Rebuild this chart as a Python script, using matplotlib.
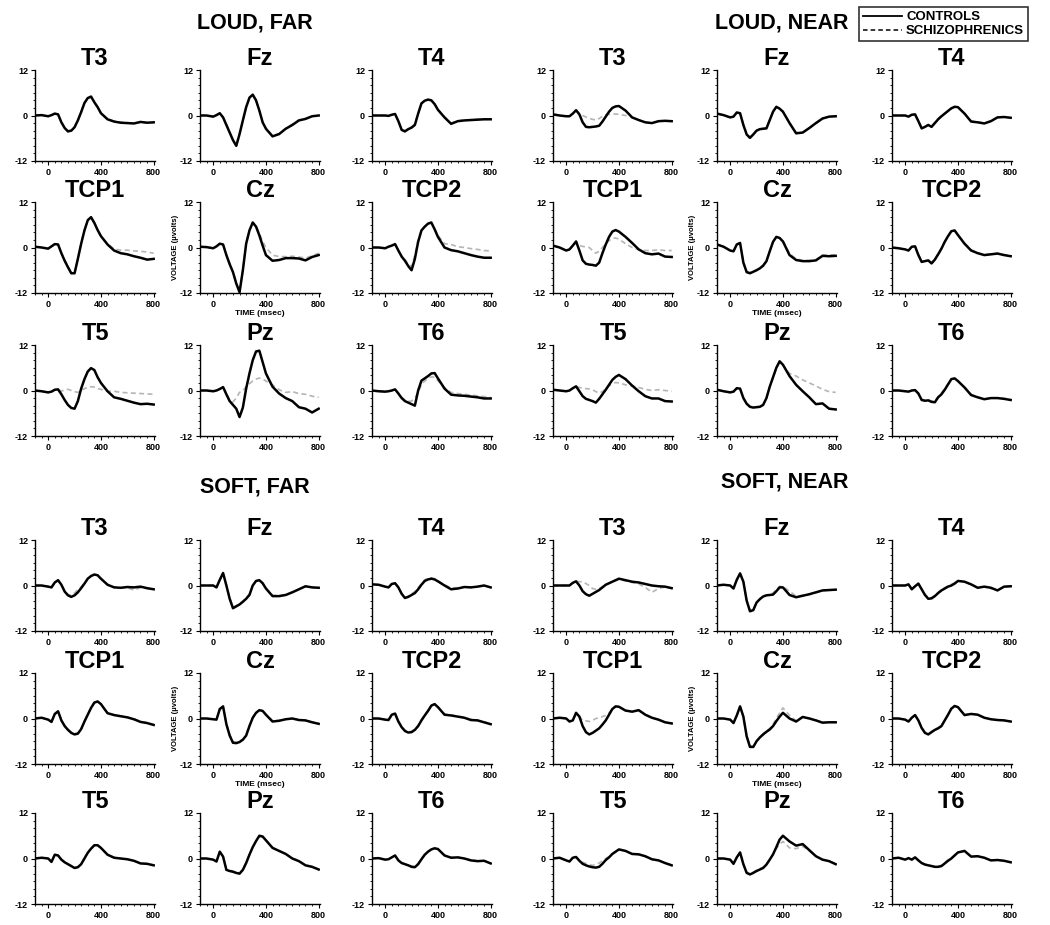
import matplotlib
matplotlib.use('Agg')
import matplotlib.pyplot as plt
from matplotlib.lines import Line2D
from matplotlib.ticker import MultipleLocator

plt.rcParams['font.family'] = ['Liberation Sans', 'DejaVu Sans']

# temps (msec)
T = [-100, -50, 0, 25, 50, 75, 100, 125, 150, 175, 200, 225, 250, 275, 300,
     325, 350, 375, 400, 450, 500, 550, 600, 650, 700, 750, 800]

# ---- LOUD, FAR ----
lf_t3_c = [0, 0.1, -0.2, 0.1, 0.5, 0.3, -1.8, -3.3, -4.2, -4.0, -3.1, -1.3, 0.9, 3.3, 4.6, 5.0, 3.5, 2.2, 0.6, -1.0, -1.6, -1.9, -2.0, -2.1, -1.7, -1.9, -1.8]
lf_t3_s = [0, 0.1, -0.2, 0.1, 0.5, 0.3, -1.6, -3.1, -4.0, -3.9, -3.0, -1.2, 0.9, 3.2, 4.5, 4.9, 3.5, 2.2, 0.7, -0.9, -1.5, -1.8, -1.9, -2.0, -1.8, -1.9, -1.8]
lf_fz_c = [0, 0, -0.3, 0.1, 0.6, -0.5, -2.5, -4.5, -6.5, -8.0, -4.9, -1.3, 2.2, 4.7, 5.5, 4.0, 1.3, -1.8, -3.5, -5.5, -4.9, -3.5, -2.5, -1.3, -0.9, -0.2, 0.0]
lf_fz_s = [0, 0, -0.3, 0.1, 0.6, -0.4, -2.3, -4.3, -6.3, -7.8, -4.8, -1.2, 2.1, 4.5, 5.3, 3.9, 1.3, -1.6, -3.3, -5.3, -4.8, -3.4, -2.3, -1.2, -0.8, -0.2, 0.0]
lf_t4_c = [0, 0, 0, -0.1, 0.2, 0.4, -1.5, -3.8, -4.2, -3.6, -3.2, -2.5, 0.5, 3.2, 3.9, 4.2, 4.0, 3.0, 1.5, -0.5, -2.2, -1.5, -1.3, -1.2, -1.1, -1.0, -1.0]
lf_t4_s = [0, 0, 0, -0.1, 0.2, 0.4, -1.4, -3.6, -4.0, -3.5, -3.0, -2.2, 0.6, 3.1, 3.8, 4.1, 3.9, 3.0, 1.6, -0.4, -2.0, -1.4, -1.2, -1.1, -1.0, -1.0, -1.0]
lf_tcp1_c = [0.2, 0, -0.3, 0.3, 0.9, 0.8, -1.5, -3.5, -5.2, -6.8, -6.8, -3.0, 1.0, 4.5, 7.2, 8.0, 6.5, 4.6, 3.0, 0.8, -0.8, -1.5, -1.8, -2.3, -2.7, -3.2, -3.0]
lf_tcp1_s = [0.2, 0, -0.3, 0.3, 0.9, 0.8, -1.4, -3.3, -5.0, -6.6, -6.6, -2.9, 1.0, 4.4, 7.0, 7.8, 6.4, 4.5, 3.0, 1.0, -0.4, -0.7, -0.7, -0.9, -1.0, -1.2, -1.5]
lf_cz_c = [0.2, 0.1, -0.2, 0.3, 1.0, 0.8, -2.0, -4.4, -6.5, -9.5, -11.8, -6.0, 1.0, 4.5, 6.6, 5.5, 3.2, 0.5, -2.0, -3.5, -3.3, -2.8, -2.8, -2.9, -3.4, -2.5, -2.0]
lf_cz_s = [0.2, 0.1, -0.2, 0.3, 1.0, 0.8, -1.9, -4.3, -6.4, -9.3, -11.5, -5.8, 1.2, 4.6, 6.5, 5.6, 3.8, 1.6, 0, -2.0, -2.4, -2.4, -2.3, -2.5, -2.8, -2.2, -1.5]
lf_tcp2_c = [0, 0, -0.2, 0.2, 0.5, 0.9, -0.8, -2.4, -3.5, -4.9, -6.0, -3.0, 1.5, 4.5, 5.5, 6.3, 6.6, 4.8, 2.8, 0, -0.7, -1.0, -1.5, -2.0, -2.4, -2.7, -2.7]
lf_tcp2_s = [0, 0, -0.2, 0.2, 0.5, 0.9, -0.7, -2.2, -3.2, -4.4, -5.0, -2.0, 2.0, 4.6, 5.5, 6.2, 6.4, 4.9, 3.2, 1.0, 0.8, 0.2, 0, -0.3, -0.5, -0.8, -0.9]
lf_t5_c = [0, -0.2, -0.5, -0.3, 0.2, 0.3, -1.0, -2.5, -3.8, -4.6, -4.8, -2.8, 0.5, 3.0, 5.0, 5.9, 5.4, 3.5, 2.0, -0.2, -1.8, -2.2, -2.7, -3.2, -3.6, -3.5, -3.7]
lf_t5_s = [0, -0.2, -0.5, -0.3, 0.2, 0.3, -0.2, 0.2, 0.3, 0, -0.3, -0.5, 0, 0.5, 0.8, 1.0, 0.9, 0.5, 0.3, -0.2, -0.2, -0.5, -0.6, -0.7, -0.8, -0.9, -1.0]
lf_pz_c = [0, 0, -0.2, 0, 0.4, 0.9, -1.0, -2.8, -3.8, -4.8, -7.0, -4.5, 0.5, 4.5, 8.0, 10.3, 10.5, 7.5, 4.5, 1.0, -0.8, -2.0, -2.8, -4.4, -4.8, -5.8, -4.8]
lf_pz_s = [0, 0, -0.2, 0, 0.4, 0.9, -0.9, -2.5, -3.0, -2.0, -0.5, 0, 1.0, 1.8, 2.5, 3.0, 3.3, 3.0, 2.5, 1.5, 0.2, -0.5, -0.3, -0.8, -1.0, -1.5, -1.8]
lf_t6_c = [0, -0.2, -0.3, -0.2, 0, 0.3, -0.8, -2.0, -2.8, -3.2, -3.6, -4.0, 0, 2.6, 3.2, 3.8, 4.5, 4.6, 3.2, 0.5, -1.1, -1.3, -1.4, -1.6, -1.8, -2.1, -2.1]
lf_t6_s = [0, -0.2, -0.3, -0.2, 0, 0.3, -0.7, -1.8, -2.5, -2.8, -2.8, -2.0, -0.5, 1.5, 2.5, 3.2, 3.6, 3.5, 2.6, 0.8, -0.5, -0.8, -1.0, -1.2, -1.4, -1.6, -1.8]

# ---- LOUD, NEAR ----
ln_t3_c = [0.3, 0, -0.2, -0.2, 0.5, 1.4, 0.3, -1.8, -3.0, -3.1, -3.0, -2.9, -2.7, -1.6, -0.3, 1.0, 2.0, 2.4, 2.5, 1.3, -0.5, -1.2, -1.8, -2.0, -1.5, -1.4, -1.5]
ln_t3_s = [0.3, 0, -0.2, -0.2, 0.5, 1.3, 0.5, 0, -0.4, -0.8, -1.0, -1.2, -0.8, -0.2, 0.2, 0.3, 0.4, 0.4, 0.3, 0, -0.5, -1.2, -1.8, -2.0, -1.5, -1.4, -1.5]
ln_fz_c = [0.5, 0.1, -0.5, -0.3, 0.8, 0.6, -2.5, -5.0, -5.9, -5.0, -4.0, -3.6, -3.5, -3.4, -1.2, 1.0, 2.3, 1.8, 1.0, -2.0, -4.7, -4.5, -3.3, -2.0, -0.8, -0.3, -0.2]
ln_fz_s = [0.5, 0.1, -0.5, -0.3, 0.8, 0.6, -2.3, -4.8, -5.7, -4.9, -3.9, -3.5, -3.4, -3.2, -1.0, 1.0, 2.2, 1.8, 1.1, -1.8, -4.5, -4.4, -3.4, -2.1, -0.8, -0.3, -0.2]
ln_t4_c = [0, 0, 0, -0.3, 0.2, 0.3, -1.5, -3.4, -3.0, -2.5, -3.0, -2.0, -1.0, -0.2, 0.5, 1.2, 1.9, 2.3, 2.2, 0.5, -1.6, -1.8, -2.1, -1.5, -0.5, -0.4, -0.6]
ln_t4_s = [0, 0, 0, -0.3, 0.2, 0.3, -1.4, -3.2, -2.9, -2.4, -2.8, -1.8, -0.8, 0, 0.6, 1.2, 1.8, 2.2, 2.1, 0.6, -1.4, -1.7, -2.0, -1.4, -0.5, -0.4, -0.6]
ln_tcp1_c = [0.5, 0, -0.8, -0.5, 0.5, 1.6, -0.8, -3.4, -4.3, -4.5, -4.6, -4.8, -4.0, -1.5, 0.8, 2.8, 4.2, 4.6, 4.2, 2.8, 1.2, -0.5, -1.5, -1.8, -1.6, -2.4, -2.5]
ln_tcp1_s = [0.5, 0, -0.8, -0.5, 0.5, 1.5, 0.5, 0.3, 0.1, 0, -0.8, -1.5, -1.0, 0, 1.0, 1.8, 2.4, 2.5, 2.2, 1.0, 0, -0.6, -0.8, -0.8, -0.6, -0.8, -0.8]
ln_cz_c = [0.8, 0.2, -0.8, -1.0, 0.8, 1.2, -4.0, -6.5, -6.8, -6.4, -6.0, -5.5, -4.8, -3.6, -1.0, 1.5, 2.8, 2.5, 1.6, -2.0, -3.3, -3.6, -3.6, -3.4, -2.2, -2.3, -2.2]
ln_cz_s = [0.8, 0.2, -0.8, -1.0, 0.8, 1.2, -3.8, -6.3, -6.6, -6.3, -5.9, -5.4, -4.6, -3.4, -0.8, 1.6, 2.8, 2.6, 1.8, -1.6, -3.0, -3.4, -3.4, -3.2, -2.0, -2.0, -1.9]
ln_tcp2_c = [0, -0.2, -0.5, -0.8, 0.2, 0.3, -2.0, -3.8, -3.6, -3.4, -4.2, -3.2, -1.8, -0.3, 1.5, 3.0, 4.3, 4.5, 3.3, 1.0, -0.8, -1.5, -2.0, -1.8, -1.6, -2.0, -2.3]
ln_tcp2_s = [0, -0.2, -0.5, -0.8, 0.2, 0.3, -1.8, -3.6, -3.5, -3.3, -4.0, -3.0, -1.6, -0.2, 1.5, 3.0, 4.2, 4.4, 3.3, 1.1, -0.6, -1.4, -1.9, -1.7, -1.5, -1.9, -2.2]
ln_t5_c = [0.2, 0, -0.2, 0, 0.6, 1.1, -0.2, -1.5, -2.2, -2.5, -2.8, -3.2, -2.2, -1.0, 0.2, 1.5, 2.8, 3.6, 4.1, 3.0, 1.3, -0.2, -1.5, -2.1, -2.1, -2.8, -2.9]
ln_t5_s = [0.2, 0, -0.2, 0, 0.6, 1.0, 0.8, 0.6, 0.5, 0.4, 0.2, -0.3, -0.7, -0.3, 0.5, 1.2, 1.8, 2.1, 2.0, 1.5, 1.2, 0.8, 0.3, 0, 0.2, 0, -0.2]
ln_pz_c = [0.2, -0.2, -0.5, -0.3, 0.6, 0.5, -2.0, -3.5, -4.3, -4.5, -4.4, -4.3, -3.8, -2.0, 1.0, 3.5, 6.0, 7.7, 6.8, 3.8, 1.5, -0.2, -1.8, -3.6, -3.4, -4.8, -5.0]
ln_pz_s = [0.2, -0.2, -0.5, -0.3, 0.6, 0.5, -1.9, -3.4, -4.2, -4.4, -4.3, -4.2, -3.7, -1.9, 1.0, 3.4, 5.8, 7.4, 6.6, 4.5, 3.8, 2.8, 2.0, 1.2, 0.3, -0.3, -0.5]
ln_t6_c = [0, 0, -0.2, -0.3, 0, 0.1, -0.8, -2.5, -2.7, -2.6, -3.0, -3.1, -1.8, -1.0, 0.2, 1.6, 3.0, 3.2, 2.5, 0.8, -1.2, -1.8, -2.3, -2.0, -2.0, -2.2, -2.5]
ln_t6_s = [0, 0, -0.2, -0.3, 0, 0.1, -0.7, -2.3, -2.6, -2.5, -2.8, -2.8, -1.6, -0.6, 0.5, 1.8, 3.0, 3.1, 2.4, 0.9, -1.0, -1.7, -2.2, -2.0, -1.9, -2.1, -2.4]

# ---- SOFT, FAR ----
sf_t3_c = [0, 0, -0.3, -0.5, 0.8, 1.4, 0.2, -1.6, -2.6, -3.0, -2.6, -1.8, -0.7, 0.5, 1.8, 2.5, 2.9, 2.7, 1.8, 0.2, -0.5, -0.6, -0.4, -0.5, -0.3, -0.7, -1.0]
sf_t3_s = [0, 0, -0.3, -0.5, 0.8, 1.3, 0.2, -1.4, -2.4, -2.6, -2.0, -1.0, -0.4, 0.6, 1.8, 2.5, 2.8, 2.6, 1.8, 0.3, -0.4, -0.6, -0.6, -1.2, -0.6, -0.8, -1.0]
sf_fz_c = [0, 0, 0, -0.5, 1.5, 3.3, 0.0, -3.5, -6.0, -5.5, -5.0, -4.3, -3.5, -2.5, 0, 1.2, 1.4, 0.6, -0.8, -2.8, -2.8, -2.5, -1.8, -1.0, -0.2, -0.5, -0.6]
sf_fz_s = [0, 0, 0, -0.5, 1.4, 3.1, 0.2, -3.2, -5.6, -5.3, -4.8, -4.1, -3.3, -2.2, 0.2, 1.2, 1.4, 0.7, -0.6, -2.6, -2.7, -2.4, -1.7, -1.0, -0.3, -0.5, -0.6]
sf_t4_c = [0.3, 0.2, -0.3, -0.5, 0.4, 0.6, -0.5, -2.2, -3.3, -3.0, -2.5, -2.0, -1.0, 0.2, 1.2, 1.6, 1.8, 1.6, 1.1, 0, -1.0, -0.8, -0.4, -0.5, -0.3, 0, -0.5]
sf_t4_s = [0.3, 0.2, -0.3, -0.5, 0.4, 0.6, -0.4, -2.0, -3.1, -2.8, -2.2, -1.6, -0.6, 0.5, 1.5, 1.9, 2.0, 1.8, 1.2, 0.2, -0.6, -0.6, -0.4, -0.5, -0.3, 0, -0.5]
sf_tcp1_c = [0, 0.2, -0.3, -0.9, 1.2, 1.9, -0.5, -2.0, -3.0, -3.8, -4.2, -4.0, -2.8, -0.8, 1.0, 2.8, 4.2, 4.5, 3.8, 1.4, 0.9, 0.6, 0.3, -0.2, -0.9, -1.2, -1.7]
sf_tcp1_s = [0, 0.2, -0.3, -0.9, 1.1, 1.8, -0.4, -1.8, -2.8, -3.6, -4.0, -3.8, -2.6, -0.7, 1.0, 2.7, 4.0, 4.4, 3.7, 1.5, 1.0, 0.7, 0.4, -0.1, -0.8, -1.1, -1.6]
sf_cz_c = [0, 0, -0.2, -0.3, 2.5, 3.2, -1.5, -4.5, -6.4, -6.5, -6.2, -5.6, -4.5, -2.0, 0.2, 1.5, 2.2, 2.0, 1.0, -0.8, -0.6, -0.2, 0, -0.4, -0.5, -1.0, -1.4]
sf_cz_s = [0, 0, -0.2, -0.3, 2.4, 3.0, -1.3, -4.2, -6.1, -6.3, -6.0, -5.4, -4.3, -1.8, 0.3, 1.5, 2.2, 2.0, 1.1, -0.6, -0.5, -0.2, 0, -0.3, -0.5, -0.9, -1.3]
sf_tcp2_c = [0, 0, -0.3, -0.4, 1.0, 1.3, -0.8, -2.3, -3.3, -3.7, -3.6, -3.0, -2.0, -0.5, 0.8, 2.0, 3.4, 3.8, 3.0, 1.0, 0.8, 0.5, 0.2, -0.4, -0.5, -1.0, -1.5]
sf_tcp2_s = [0, 0, -0.3, -0.4, 0.9, 1.2, -0.7, -2.1, -3.1, -3.5, -3.4, -2.8, -1.8, -0.3, 1.0, 2.2, 3.4, 3.7, 3.0, 1.2, 0.9, 0.6, 0.3, -0.2, -0.4, -0.9, -1.4]
sf_t5_c = [0, 0.2, 0, -0.9, 1.0, 0.8, -0.3, -1.0, -1.5, -2.0, -2.5, -2.3, -1.5, 0, 1.5, 2.6, 3.5, 3.5, 2.8, 1.0, 0.2, 0, -0.2, -0.6, -1.3, -1.4, -1.8]
sf_t5_s = [0, 0.2, 0, -0.9, 0.9, 0.8, -0.2, -0.9, -1.4, -1.9, -2.4, -2.2, -1.4, 0.1, 1.5, 2.5, 3.4, 3.4, 2.8, 1.1, 0.3, 0, -0.2, -0.6, -1.2, -1.4, -1.7]
sf_pz_c = [0, 0, -0.3, -0.8, 1.8, 0.5, -3.0, -3.3, -3.5, -3.8, -4.0, -3.0, -1.2, 1.0, 3.0, 4.6, 6.0, 5.8, 4.8, 2.8, 2.0, 1.2, 0, -0.7, -1.8, -2.2, -2.9]
sf_pz_s = [0, 0, -0.3, -0.8, 1.7, 0.5, -2.8, -3.1, -3.3, -3.6, -3.8, -2.8, -1.0, 1.1, 3.0, 4.5, 5.8, 5.7, 4.8, 2.9, 2.0, 1.2, 0.1, -0.6, -1.7, -2.1, -2.8]
sf_t6_c = [0, 0.1, -0.3, -0.2, 0.3, 0.8, -0.5, -1.2, -1.5, -1.8, -2.2, -2.3, -1.5, -0.2, 1.0, 1.8, 2.4, 2.7, 2.5, 0.8, 0.2, 0.3, 0, -0.5, -0.7, -0.6, -1.3]
sf_t6_s = [0, 0.1, -0.3, -0.2, 0.3, 0.7, -0.4, -1.1, -1.4, -1.7, -2.0, -2.1, -1.3, 0, 1.1, 1.8, 2.4, 2.6, 2.4, 0.9, 0.3, 0.3, 0.1, -0.4, -0.6, -0.6, -1.2]

# ---- SOFT, NEAR ----
sn_t3_c = [0, 0, 0, 0, 0.7, 1.1, 0, -1.5, -2.3, -2.7, -2.2, -1.7, -1.2, -0.5, 0.2, 0.6, 1.0, 1.4, 1.8, 1.4, 1.0, 0.8, 0.4, 0, -0.2, -0.3, -0.7]
sn_t3_s = [0, 0, 0, 0, 0.7, 1.1, 1.0, 1.0, 0.5, 0, -0.8, -1.0, -0.8, -0.3, 0.2, 0.6, 1.0, 1.3, 1.6, 1.2, 0.8, 0.4, -0.5, -1.8, -0.8, -0.4, -0.8]
sn_fz_c = [0, 0.2, 0, -0.8, 1.5, 3.2, 1.0, -4.0, -6.8, -6.5, -4.5, -3.6, -2.9, -2.6, -2.5, -2.4, -1.5, -0.5, -0.5, -2.5, -3.1, -2.7, -2.3, -1.8, -1.3, -1.2, -1.1]
sn_fz_s = [0, 0.2, 0, -0.8, 1.4, 3.0, 1.0, -3.8, -6.5, -6.3, -4.4, -3.5, -2.8, -2.5, -2.3, -2.0, -1.0, -0.2, -0.3, -1.5, -2.8, -2.6, -2.4, -1.9, -1.4, -1.2, -1.1]
sn_t4_c = [0, 0, 0, 0.3, -1.0, -0.2, 0.5, -1.0, -2.5, -3.5, -3.4, -2.8, -2.0, -1.3, -0.8, -0.3, 0, 0.5, 1.2, 1.0, 0.3, -0.6, -0.3, -0.6, -1.3, -0.3, -0.2]
sn_t4_s = [0, 0, 0, 0.3, -0.9, -0.2, 0.5, -0.9, -2.3, -3.3, -3.2, -2.6, -1.8, -1.1, -0.6, -0.1, 0.3, 0.7, 1.3, 1.0, 0.2, -0.6, -0.4, -0.8, -1.2, -0.4, -0.2]
sn_tcp1_c = [0, 0.2, 0, -0.8, -0.5, 1.5, 0.5, -2.0, -3.6, -4.2, -3.8, -3.2, -2.6, -1.6, -0.5, 1.0, 2.5, 3.2, 3.1, 2.1, 1.8, 2.2, 1.0, 0.2, -0.3, -1.0, -1.3]
sn_tcp1_s = [0, 0.2, 0, -0.8, -0.5, 1.4, 0.6, -0.5, -0.6, -0.8, -0.5, 0, 0.2, 0.5, 0.8, 1.5, 2.6, 3.2, 3.0, 2.0, 1.8, 2.1, 1.0, 0.2, -0.3, -1.0, -1.3]
sn_cz_c = [0, 0, -0.3, -1.2, 0.8, 3.2, 0.5, -4.7, -7.5, -7.5, -6.0, -5.0, -4.2, -3.5, -2.9, -2.0, -0.7, 0.5, 1.5, 0, -0.8, 0.4, 0, -0.5, -1.1, -1.0, -1.0]
sn_cz_s = [0, 0, -0.3, -1.2, 0.8, 3.0, 0.6, -4.4, -7.2, -7.3, -5.9, -4.9, -4.0, -3.3, -2.6, -1.5, 0, 1.5, 2.8, 0.8, -0.6, 0.5, 0.1, -0.4, -1.0, -1.0, -1.0]
sn_tcp2_c = [0, 0, -0.3, -0.8, 0.2, 0.9, -0.5, -2.5, -3.8, -4.2, -3.6, -3.0, -2.6, -2.0, -0.5, 1.0, 2.6, 3.3, 3.0, 0.9, 1.2, 1.0, 0.2, -0.2, -0.4, -0.5, -0.8]
sn_tcp2_s = [0, 0, -0.3, -0.8, 0.2, 0.8, -0.4, -2.3, -3.6, -4.0, -3.4, -2.8, -2.4, -1.8, -0.4, 1.0, 2.5, 3.2, 3.0, 1.0, 1.2, 1.0, 0.3, -0.2, -0.4, -0.5, -0.8]
sn_t5_c = [0, 0.2, -0.5, -0.8, 0.2, 0.4, -0.6, -1.4, -1.8, -2.1, -2.3, -2.4, -2.2, -1.4, -0.4, 0.3, 1.2, 1.8, 2.4, 2.0, 1.2, 1.1, 0.6, -0.2, -0.5, -1.2, -1.8]
sn_t5_s = [0, 0.2, -0.5, -0.8, 0.2, 0.4, -0.4, -1.0, -1.3, -1.6, -1.8, -1.6, -1.2, -0.6, 0, 0.5, 1.2, 1.8, 2.3, 2.0, 1.2, 1.0, 0.5, -0.2, -0.5, -1.1, -1.7]
sn_pz_c = [0, 0, -0.3, -1.4, 0.3, 1.6, -1.5, -3.8, -4.2, -3.8, -3.3, -2.9, -2.5, -1.6, -0.3, 1.1, 3.0, 5.0, 6.0, 4.5, 3.4, 3.8, 2.2, 0.6, -0.3, -0.7, -1.5]
sn_pz_s = [0, 0, -0.3, -1.4, 0.3, 1.5, -1.4, -3.6, -4.0, -3.6, -3.1, -2.7, -2.3, -1.4, -0.2, 1.0, 2.6, 3.8, 4.5, 2.8, 2.6, 3.2, 2.0, 0.6, -0.3, -0.7, -1.4]
sn_t6_c = [0, 0.2, -0.3, 0.1, -0.3, 0.3, -0.5, -1.2, -1.6, -1.8, -2.0, -2.2, -2.2, -2.0, -1.3, -0.6, 0, 0.8, 1.6, 2.0, 0.5, 0.6, 0.2, -0.5, -0.4, -0.6, -1.0]
sn_t6_s = [0, 0.2, -0.3, 0.1, -0.3, 0.3, -0.4, -1.1, -1.5, -1.7, -1.9, -2.0, -2.0, -1.8, -1.1, -0.4, 0.2, 0.9, 1.6, 1.9, 0.6, 0.6, 0.2, -0.4, -0.4, -0.6, -1.0]

electrodes = [['T3', 'Fz', 'T4'], ['TCP1', 'Cz', 'TCP2'], ['T5', 'Pz', 'T6']]

data = {
    'lf': [[(lf_t3_c, lf_t3_s), (lf_fz_c, lf_fz_s), (lf_t4_c, lf_t4_s)],
           [(lf_tcp1_c, lf_tcp1_s), (lf_cz_c, lf_cz_s), (lf_tcp2_c, lf_tcp2_s)],
           [(lf_t5_c, lf_t5_s), (lf_pz_c, lf_pz_s), (lf_t6_c, lf_t6_s)]],
    'ln': [[(ln_t3_c, ln_t3_s), (ln_fz_c, ln_fz_s), (ln_t4_c, ln_t4_s)],
           [(ln_tcp1_c, ln_tcp1_s), (ln_cz_c, ln_cz_s), (ln_tcp2_c, ln_tcp2_s)],
           [(ln_t5_c, ln_t5_s), (ln_pz_c, ln_pz_s), (ln_t6_c, ln_t6_s)]],
    'sf': [[(sf_t3_c, sf_t3_s), (sf_fz_c, sf_fz_s), (sf_t4_c, sf_t4_s)],
           [(sf_tcp1_c, sf_tcp1_s), (sf_cz_c, sf_cz_s), (sf_tcp2_c, sf_tcp2_s)],
           [(sf_t5_c, sf_t5_s), (sf_pz_c, sf_pz_s), (sf_t6_c, sf_t6_s)]],
    'sn': [[(sn_t3_c, sn_t3_s), (sn_fz_c, sn_fz_s), (sn_t4_c, sn_t4_s)],
           [(sn_tcp1_c, sn_tcp1_s), (sn_cz_c, sn_cz_s), (sn_tcp2_c, sn_tcp2_s)],
           [(sn_t5_c, sn_t5_s), (sn_pz_c, sn_pz_s), (sn_t6_c, sn_t6_s)]],
}

W, H = 1050, 925
fig = plt.figure(figsize=(W / 100, H / 100), dpi=100)

# position des axes en pixels
col_left = [35, 200, 372, 553, 717, 892]
row_top = [70, 202, 345, 540, 673, 813]
ax_w, ax_h = 120, 91

groups = [('lf', 0, 0), ('ln', 3, 0), ('sf', 0, 3), ('sn', 3, 3)]

for key, c0, r0 in groups:
    for i in range(3):
        for j in range(3):
            x0 = col_left[c0 + j]
            y0 = row_top[r0 + i]
            ax = fig.add_axes([x0 / W, 1 - (y0 + ax_h) / H, ax_w / W, ax_h / H])
            ctrl, schz = data[key][i][j]
            ax.plot(T, schz, color='#b5b5b5', lw=1.2, ls=(0, (3, 2)), zorder=2)
            ax.plot(T, ctrl, color='black', lw=1.8, zorder=3)
            ax.set_xlim(-100, 810)
            ax.set_ylim(-12, 12)
            ax.spines['top'].set_visible(False)
            ax.spines['right'].set_visible(False)
            ax.spines['left'].set_linewidth(1.0)
            ax.spines['bottom'].set_linewidth(1.0)
            ax.set_xticks([0, 400, 800])
            ax.set_yticks([-12, 0, 12])
            ax.set_yticklabels(['-12', '0', '12'])
            ax.xaxis.set_minor_locator(MultipleLocator(50))
            ax.yaxis.set_minor_locator(MultipleLocator(2))
            ax.tick_params(which='major', length=3, width=0.8, labelsize=6.5, pad=2)
            ax.tick_params(which='minor', length=1.5, width=0.6)
            for lab in ax.get_xticklabels() + ax.get_yticklabels():
                lab.set_fontweight('bold')
            ax.set_title(electrodes[i][j], fontsize=17, fontweight='bold', pad=3)
            if electrodes[i][j] == 'Cz':
                ax.set_ylabel('VOLTAGE (µvolts)', fontsize=5.5, fontweight='bold', labelpad=1)
                ax.set_xlabel('TIME (msec)', fontsize=6, fontweight='bold', labelpad=1)

fig.text(255 / W, 1 - 23 / H, 'LOUD, FAR', fontsize=15.5, fontweight='bold', ha='center', va='center')
fig.text(782 / W, 1 - 23 / H, 'LOUD, NEAR', fontsize=15.5, fontweight='bold', ha='center', va='center')
fig.text(255 / W, 1 - 487 / H, 'SOFT, FAR', fontsize=15.5, fontweight='bold', ha='center', va='center')
fig.text(785 / W, 1 - 482 / H, 'SOFT, NEAR', fontsize=15.5, fontweight='bold', ha='center', va='center')

handles = [Line2D([0], [0], color='black', lw=1.3),
           Line2D([0], [0], color='black', lw=1.1, ls=(0, (3, 2)))]
leg = fig.legend(handles, ['CONTROLS', 'SCHIZOPHRENICS'], loc='upper right',
                 bbox_to_anchor=(1028 / W, 1 - 7 / H), fontsize=9.5,
                 frameon=True, fancybox=False, edgecolor='black',
                 handlelength=3.0, handletextpad=0.3, borderpad=0.3,
                 labelspacing=0.15, borderaxespad=0)
leg.get_frame().set_linewidth(1.2)
for txt in leg.get_texts():
    txt.set_fontweight('bold')

fig.savefig('out.png', dpi=100)
plt.close(fig)
